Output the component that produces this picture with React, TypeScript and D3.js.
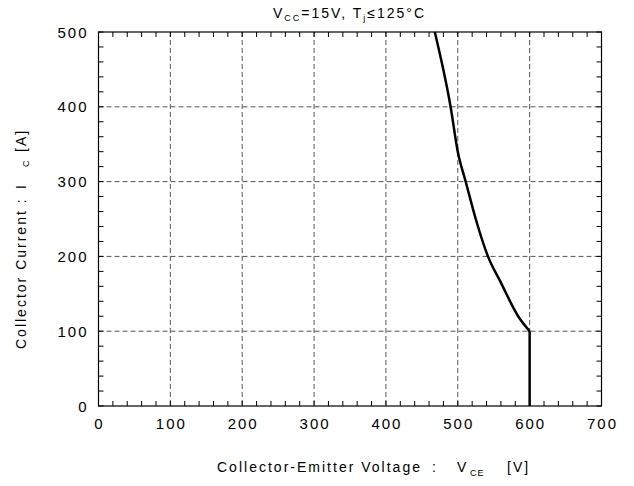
import React from "react";
import * as d3 from "d3";

const voltage = [468, 490, 500, 511, 525, 542, 560, 584, 600];
const current = [500, 400, 340, 300, 250, 200, 165, 120, 100];
const clampVoltage = [600, 600];
const clampCurrent = [100, 0];
const xTicks = [0, 100, 200, 300, 400, 500, 600, 700];
const yTicks = [0, 100, 200, 300, 400, 500];

const W = 634, H = 486;
const L = 98.5, R = 601.5, T = 32, B = 406;
const FONT = "'Liberation Sans', Arial, sans-serif";

export default function App() {
  const x = d3.scaleLinear().domain([0, 700]).range([L, R]);
  const y = d3.scaleLinear().domain([0, 500]).range([B, T]);
  const minorX = d3.range(0, 701, 20);
  const minorY = d3.range(0, 501, 20);
  const pts: [number, number][] = voltage.map((v, i) => [v, current[i]]);
  const pts2: [number, number][] = clampVoltage.map((v, i) => [v, clampCurrent[i]]);
  const curve = d3.line<[number, number]>().x(d => x(d[0])).y(d => y(d[1])).curve(d3.curveMonotoneX);
  const straight = d3.line<[number, number]>().x(d => x(d[0])).y(d => y(d[1]));
  const tl = 5;
  return (
    <svg width={W} height={H} style={{ position: "absolute", left: 0, top: 0, background: "#fff" }} fontFamily={FONT}>
      <rect x={0} y={0} width={W} height={H} fill="#fff" />
      {xTicks.filter(t => t > 0 && t < 700).map(t => (
        <line key={"gx" + t} x1={x(t)} x2={x(t)} y1={T} y2={B} stroke="#555" strokeWidth={1} strokeDasharray="5,3" />
      ))}
      {yTicks.filter(t => t > 0 && t < 500).map(t => (
        <line key={"gy" + t} x1={L} x2={R} y1={y(t)} y2={y(t)} stroke="#555" strokeWidth={1} strokeDasharray="5,3" />
      ))}
      {minorX.map(t => (
        <g key={"mx" + t}>
          <line x1={x(t)} x2={x(t)} y1={B} y2={B - tl} stroke="#000" strokeWidth={1} />
          <line x1={x(t)} x2={x(t)} y1={T} y2={T + tl} stroke="#000" strokeWidth={1} />
        </g>
      ))}
      {minorY.map(t => (
        <g key={"my" + t}>
          <line x1={L} x2={L + tl} y1={y(t)} y2={y(t)} stroke="#000" strokeWidth={1} />
          <line x1={R} x2={R - tl} y1={y(t)} y2={y(t)} stroke="#000" strokeWidth={1} />
        </g>
      ))}
      <rect x={L} y={T} width={R - L} height={B - T} fill="none" stroke="#000" strokeWidth={1.2} />
      <path d={curve(pts) || ""} fill="none" stroke="#000" strokeWidth={2.5} strokeLinejoin="round" />
      <path d={straight(pts2) || ""} fill="none" stroke="#000" strokeWidth={2.5} />
      {xTicks.map(t => (
        <text key={"tx" + t} x={x(t) + 1} y={429} textAnchor="middle" fontSize={15} letterSpacing={2}>{t}</text>
      ))}
      {yTicks.map(t => (
        <text key={"ty" + t} x={L - 10} y={y(t) + 5.5} textAnchor="end" fontSize={15} letterSpacing={2}>{t}</text>
      ))}
      <text x={273} y={18} fontSize={14} letterSpacing={2}>
        <tspan>V</tspan>
        <tspan fontSize={9} dy={3}>CC</tspan>
        <tspan dy={-3}>=15V, T</tspan>
        <tspan fontSize={9} dy={3}>j</tspan>
        <tspan dy={-3}>≤125°C</tspan>
      </text>
      <text x={217} y={472} fontSize={14} textLength={203} lengthAdjust="spacing">Collector-Emitter Voltage</text>
      <text x={432} y={472} fontSize={14}>:</text>
      <text x={457} y={472} fontSize={14}>V</text>
      <text x={470} y={476} fontSize={9} letterSpacing={1}>CE</text>
      <text x={507} y={472} fontSize={14} letterSpacing={2}>[V]</text>
      <g transform="translate(26,349) rotate(-90)">
        <text x={0} y={0} fontSize={14} letterSpacing={2}>Collector Current :</text>
        <text x={160} y={0} fontSize={14}>I</text>
        <text x={182} y={2.5} fontSize={9}>C</text>
        <text x={197} y={0} fontSize={14} letterSpacing={2}>[A]</text>
      </g>
    </svg>
  );
}
